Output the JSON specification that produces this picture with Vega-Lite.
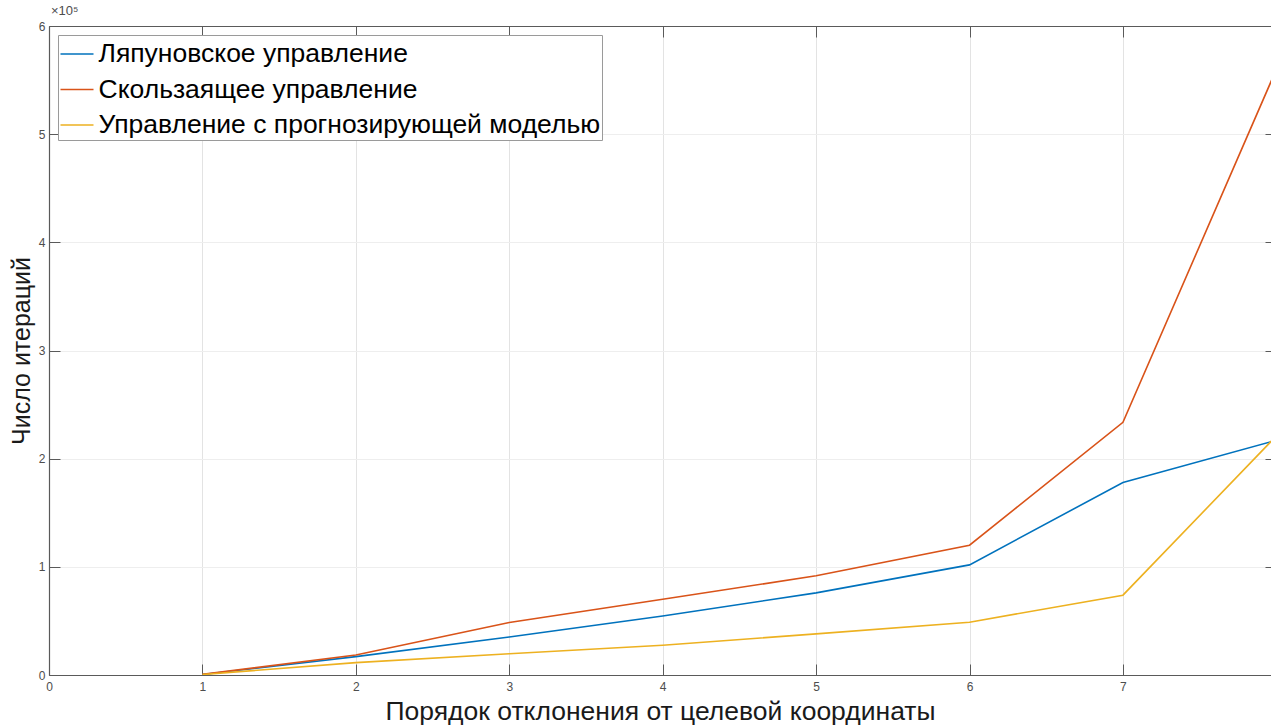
{
  "$schema": "https://vega.github.io/schema/vega-lite/v6.json",
  "autosize": "none",
  "width": 1222,
  "height": 649,
  "padding": {"left": 49, "top": 26, "right": 0, "bottom": 51},
  "background": "white",
  "config": {
    "font": "Liberation Sans",
    "view": {"stroke": null},
    "axis": {
      "labelFont": "Liberation Sans",
      "titleFont": "Liberation Sans",
      "labelFontSize": 12,
      "labelColor": "#4d4d4d",
      "labelFlush": false,
      "domainColor": "#5a5a5a",
      "domainWidth": 1.2,
      "tickColor": "#5a5a5a",
      "tickWidth": 1,
      "titleColor": "#1a1a1a",
      "titleFontWeight": "normal"
    }
  },
  "title": {
    "text": "×10⁵",
    "anchor": "start",
    "frame": "group",
    "orient": "top",
    "fontSize": 13,
    "fontWeight": "normal",
    "color": "#4d4d4d",
    "font": "Liberation Sans",
    "offset": 2,
    "dx": 2
  },
  "data": {
    "values": [
      {"order": 1, "iterations": 500, "method": "Ляпуновское управление"},
      {"order": 2, "iterations": 17000, "method": "Ляпуновское управление"},
      {"order": 3, "iterations": 35200, "method": "Ляпуновское управление"},
      {"order": 4, "iterations": 54600, "method": "Ляпуновское управление"},
      {"order": 5, "iterations": 75900, "method": "Ляпуновское управление"},
      {"order": 6, "iterations": 101800, "method": "Ляпуновское управление"},
      {"order": 7, "iterations": 178000, "method": "Ляпуновское управление"},
      {"order": 8, "iterations": 217000, "method": "Ляпуновское управление"},
      {"order": 1, "iterations": 600, "method": "Скользаящее управление"},
      {"order": 2, "iterations": 18500, "method": "Скользаящее управление"},
      {"order": 3, "iterations": 48500, "method": "Скользаящее управление"},
      {"order": 4, "iterations": 70000, "method": "Скользаящее управление"},
      {"order": 5, "iterations": 91700, "method": "Скользаящее управление"},
      {"order": 6, "iterations": 120000, "method": "Скользаящее управление"},
      {"order": 7, "iterations": 233600, "method": "Скользаящее управление"},
      {"order": 8, "iterations": 560000, "method": "Скользаящее управление"},
      {"order": 1, "iterations": 400, "method": "Управление с прогнозирующей моделью"},
      {"order": 2, "iterations": 11400, "method": "Управление с прогнозирующей моделью"},
      {"order": 3, "iterations": 19700, "method": "Управление с прогнозирующей моделью"},
      {"order": 4, "iterations": 27500, "method": "Управление с прогнозирующей моделью"},
      {"order": 5, "iterations": 38000, "method": "Управление с прогнозирующей моделью"},
      {"order": 6, "iterations": 48800, "method": "Управление с прогнозирующей моделью"},
      {"order": 7, "iterations": 73800, "method": "Управление с прогнозирующей моделью"},
      {"order": 8, "iterations": 221000, "method": "Управление с прогнозирующей моделью"}
    ]
  },
  "resolve": {"axis": {"x": "independent", "y": "independent"}},
  "layer": [
    {
      "mark": {"type": "line", "strokeWidth": 1.6, "clip": true},
      "encoding": {
        "x": {
          "field": "order",
          "type": "quantitative",
          "scale": {"domain": [0, 7.965], "nice": false, "zero": false},
          "axis": {
            "orient": "bottom",
            "values": [0, 1, 2, 3, 4, 5, 6, 7],
            "format": "d",
            "grid": true,
            "gridColor": "#e3e3e3",
            "tickSize": -11,
            "labelPadding": 17,
            "title": "Порядок отклонения от целевой координаты",
            "titleFontSize": 26.5,
            "titlePadding": 6
          }
        },
        "y": {
          "field": "iterations",
          "type": "quantitative",
          "scale": {"domain": [0, 600000], "nice": false},
          "axis": {
            "orient": "left",
            "values": [0, 100000, 200000, 300000, 400000, 500000, 600000],
            "labelExpr": "format(datum.value / 100000, 'd')",
            "grid": true,
            "gridColor": "#eeeeee",
            "tickSize": -11,
            "labelPadding": 15,
            "title": "Число итераций",
            "titleFontSize": 25,
            "titlePadding": 4
          }
        },
        "color": {
          "field": "method",
          "type": "nominal",
          "scale": {
            "domain": ["Ляпуновское управление", "Скользаящее управление", "Управление с прогнозирующей моделью"],
            "range": ["#0072BD", "#D95319", "#EDB120"]
          },
          "legend": {
            "title": null,
            "orient": "top-left",
            "offset": 9,
            "padding": 1.5,
            "strokeColor": "#9a9a9a",
            "fillColor": "white",
            "symbolType": "stroke",
            "symbolSize": 1089,
            "symbolStrokeWidth": 1.5,
            "labelFont": "Liberation Sans",
            "labelFontSize": 26.5,
            "labelColor": "#000000",
            "labelOffset": 4,
            "labelLimit": 0,
            "rowPadding": 4.5
          }
        }
      }
    },
    {
      "mark": {"type": "rule", "opacity": 0},
      "encoding": {
        "x": {
          "field": "order",
          "type": "quantitative",
          "axis": {
            "orient": "top",
            "values": [0, 1, 2, 3, 4, 5, 6, 7],
            "labels": false,
            "grid": false,
            "tickSize": -11,
            "title": null
          }
        },
        "y": {
          "field": "iterations",
          "type": "quantitative",
          "axis": {
            "orient": "right",
            "values": [0, 100000, 200000, 300000, 400000, 500000, 600000],
            "labels": false,
            "grid": false,
            "domain": false,
            "tickSize": -6,
            "title": null
          }
        }
      }
    }
  ]
}
